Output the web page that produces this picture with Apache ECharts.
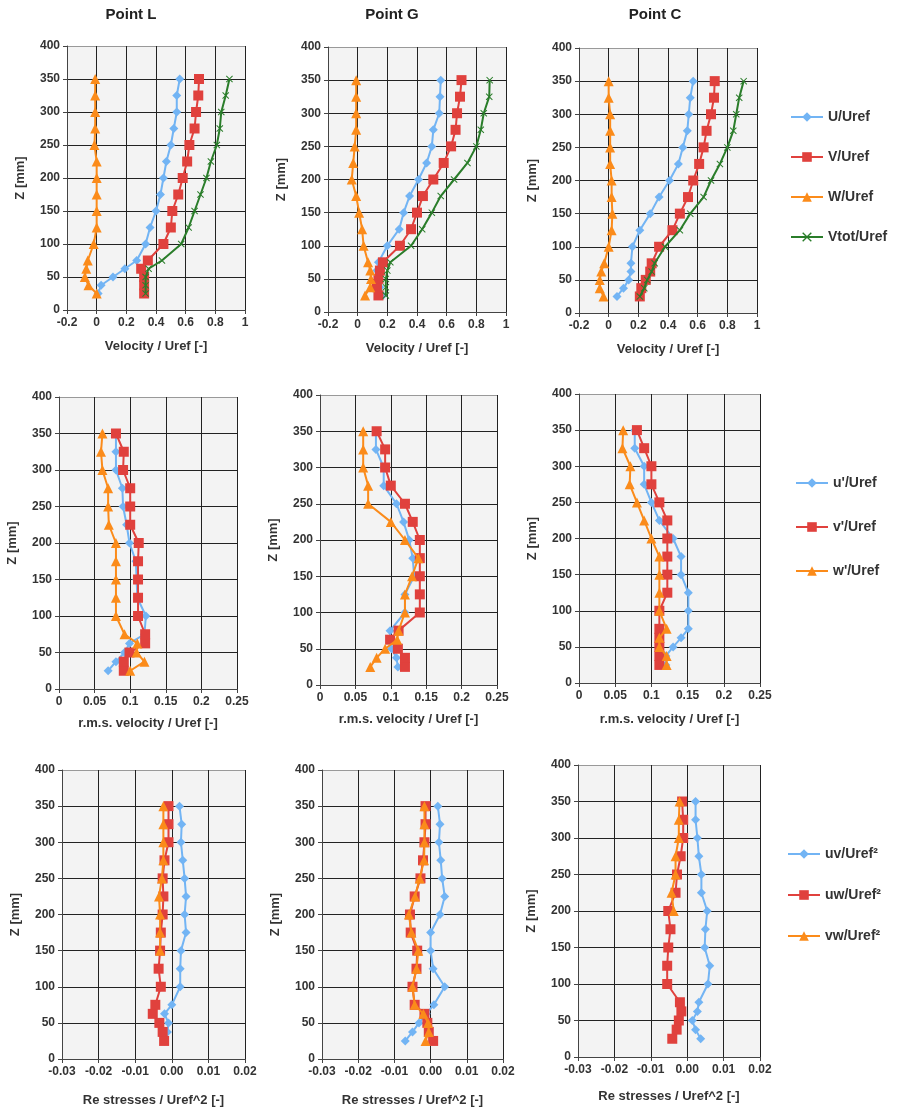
<!DOCTYPE html>
<html><head><meta charset="utf-8">
<script src="https://cdn.jsdelivr.net/npm/echarts@6/dist/echarts.min.js"></script>
<style>html,body{margin:0;padding:0;background:#fff}#c{width:909px;height:1110px}</style>
</head><body><div id="c"></div>
<script>
// ---------- DATA ----------
const zLevels = [25, 37.5, 50, 62.5, 75, 100, 125, 150, 175, 200, 225, 250, 275, 300, 325, 350];
const pointTitles = ['Point L', 'Point G', 'Point C'];

const velTicks = [-0.2, 0, 0.2, 0.4, 0.6, 0.8, 1];
const rmsTicks = [0, 0.05, 0.1, 0.15, 0.2, 0.25];
const reTicks = [-0.03, -0.02, -0.01, 0.00, 0.01, 0.02];
const zTicks = [0, 50, 100, 150, 200, 250, 300, 350, 400];

const velNames = ['U/Uref', 'V/Uref', 'W/Uref', 'Vtot/Uref'];
const rmsNames = ["u'/Uref", "v'/Uref", "w'/Uref"];
const reNames = ['uv/Uref\u00b2', 'uw/Uref\u00b2', 'vw/Uref\u00b2'];

// Mean velocities
const U_L = [0.01, 0.03, 0.11, 0.19, 0.27, 0.33, 0.36, 0.40, 0.43, 0.45, 0.47, 0.50, 0.52, 0.54, 0.54, 0.56];
const V_L = [0.32, 0.32, 0.32, 0.30, 0.345, 0.45, 0.50, 0.51, 0.55, 0.58, 0.61, 0.625, 0.66, 0.67, 0.685, 0.69];
const W_L = [0.0, -0.055, -0.08, -0.07, -0.06, -0.02, 0.0, 0.0, 0.0, 0.0, 0.0, -0.015, -0.01, -0.01, -0.01, -0.01];
const Vtot_L = [0.33, 0.33, 0.33, 0.35, 0.44, 0.57, 0.62, 0.66, 0.70, 0.74, 0.77, 0.81, 0.83, 0.84, 0.87, 0.895];

const U_G = [0.17, 0.15, 0.14, 0.13, 0.14, 0.20, 0.28, 0.31, 0.35, 0.41, 0.465, 0.50, 0.51, 0.55, 0.555, 0.56];
const V_G = [0.14, 0.13, 0.14, 0.15, 0.17, 0.285, 0.36, 0.40, 0.44, 0.51, 0.58, 0.63, 0.66, 0.67, 0.69, 0.70];
const W_G = [0.05, 0.085, 0.09, 0.085, 0.07, 0.04, 0.03, 0.01, -0.01, -0.04, -0.03, -0.02, -0.01, -0.01, -0.01, -0.01];
const Vtot_G = [0.19, 0.19, 0.19, 0.20, 0.22, 0.36, 0.435, 0.50, 0.56, 0.65, 0.74, 0.80, 0.83, 0.85, 0.887, 0.89];

const U_C = [0.056, 0.10, 0.135, 0.15, 0.15, 0.16, 0.21, 0.28, 0.34, 0.41, 0.47, 0.50, 0.53, 0.54, 0.55, 0.57];
const V_C = [0.21, 0.22, 0.25, 0.28, 0.29, 0.34, 0.43, 0.48, 0.535, 0.57, 0.61, 0.64, 0.66, 0.69, 0.71, 0.715];
const W_C = [-0.035, -0.06, -0.06, -0.05, -0.03, 0.0, 0.02, 0.025, 0.02, 0.02, 0.01, 0.01, 0.01, 0.01, 0.0, 0.0];
const Vtot_C = [0.21, 0.24, 0.26, 0.29, 0.31, 0.38, 0.48, 0.55, 0.64, 0.69, 0.75, 0.80, 0.84, 0.86, 0.88, 0.91];

// r.m.s. velocities
const u_L = [0.069, 0.08, 0.092, 0.099, 0.12, 0.122, 0.11, 0.109, 0.108, 0.099, 0.095, 0.09, 0.089, 0.08, 0.08, 0.08];
const v_L = [0.091, 0.091, 0.099, 0.121, 0.121, 0.111, 0.111, 0.111, 0.111, 0.112, 0.10, 0.10, 0.10, 0.09, 0.091, 0.08];
const w_L = [0.10, 0.12, 0.109, 0.11, 0.092, 0.08, 0.08, 0.08, 0.08, 0.08, 0.07, 0.069, 0.069, 0.061, 0.059, 0.061];

const u_G = [0.11, 0.108, 0.101, 0.099, 0.099, 0.12, 0.12, 0.133, 0.131, 0.126, 0.118, 0.108, 0.09, 0.09, 0.079, 0.079];
const v_G = [0.12, 0.12, 0.11, 0.099, 0.111, 0.141, 0.141, 0.141, 0.141, 0.141, 0.131, 0.12, 0.10, 0.092, 0.092, 0.08];
const w_G = [0.071, 0.08, 0.092, 0.109, 0.111, 0.12, 0.12, 0.13, 0.139, 0.12, 0.10, 0.068, 0.068, 0.061, 0.061, 0.061];

const u_C = [0.12, 0.12, 0.13, 0.141, 0.151, 0.151, 0.151, 0.141, 0.141, 0.13, 0.111, 0.10, 0.09, 0.09, 0.077, 0.077];
const v_C = [0.111, 0.111, 0.111, 0.111, 0.111, 0.111, 0.122, 0.122, 0.122, 0.122, 0.122, 0.111, 0.10, 0.10, 0.09, 0.08];
const w_C = [0.121, 0.121, 0.111, 0.111, 0.121, 0.111, 0.111, 0.111, 0.111, 0.10, 0.09, 0.08, 0.07, 0.071, 0.06, 0.061];

// Reynolds stresses
const uv_L = [-0.002, -0.0012, -0.0009, -0.002, 0.0, 0.0023, 0.0023, 0.0025, 0.0039, 0.0035, 0.0039, 0.0035, 0.003, 0.0025, 0.0027, 0.0021];
const uw_L = [-0.0021, -0.0025, -0.0034, -0.0052, -0.0045, -0.003, -0.0036, -0.0032, -0.003, -0.0025, -0.0023, -0.0025, -0.002, -0.0009, -0.0009, -0.0009];
const vw_L = [null, null, null, null, null, null, null, -0.0032, -0.0032, -0.0032, -0.0035, -0.0027, -0.0023, -0.0023, -0.0023, -0.0023];

const uv_G = [-0.007, -0.005, -0.0032, -0.0012, 0.0009, 0.0039, 0.0007, 0.0, 0.0, 0.0026, 0.0039, 0.0032, 0.0028, 0.0023, 0.0026, 0.002];
const uw_G = [0.0007, -0.0005, -0.0009, -0.0017, -0.0044, -0.005, -0.0039, -0.0037, -0.0055, -0.0057, -0.0044, -0.0028, -0.0021, -0.0017, -0.0014, -0.0014];
const vw_G = [-0.0014, -0.0005, -0.0007, -0.002, -0.0044, -0.005, -0.0039, -0.0034, -0.0053, -0.006, -0.0043, -0.003, -0.0018, -0.0017, -0.0017, -0.0017];

const uv_C = [0.0037, 0.0023, 0.0014, 0.0028, 0.0032, 0.0057, 0.0062, 0.0048, 0.005, 0.0055, 0.0039, 0.0039, 0.0032, 0.0028, 0.0023, 0.0023];
const uw_C = [-0.0041, -0.0029, -0.0023, -0.0016, -0.002, -0.0055, -0.0055, -0.0052, -0.0046, -0.0052, -0.0032, -0.0028, -0.0018, -0.0011, -0.0011, -0.0014];
const vw_C = [null, null, null, null, null, null, null, null, null, -0.0037, -0.0043, -0.0032, -0.0032, -0.0023, -0.0023, -0.0021];

// ---------- LAYOUT / STYLE ----------
const FONT = 'Liberation Sans, Arial, sans-serif';
const TXT = '#333';
const colors = { blue: '#72b4f4', red: '#e0413d', orange: '#fb8b1a', green: '#2a7d2a' };
const xPath = 'path://M0,1L1,0L5,4L9,0L10,1L6,5L10,9L9,10L5,6L1,10L0,9L4,5Z';
const styles = [
  { color: colors.blue, symbol: 'diamond', size: 9 },
  { color: colors.red, symbol: 'rect', size: 10 },
  { color: colors.orange, symbol: 'triangle', size: 10 },
  { color: colors.green, symbol: xPath, size: 7 }
];

const grids = [
  [67, 46, 178, 264], [328, 47, 178, 265], [579, 48, 178, 265],
  [59, 397, 178, 292], [320, 395, 177, 290], [579, 394, 181, 289],
  [62, 770, 183, 289], [322, 770, 181, 289], [578, 765, 182, 292]
];
const xNameGap = [30, 30, 30, 28, 28, 30, 35, 35, 33];

const rows = [
  { ticks: velTicks, name: 'Velocity / Uref [-]', names: velNames, fmt: null,
    sets: [[U_L, V_L, W_L, Vtot_L], [U_G, V_G, W_G, Vtot_G], [U_C, V_C, W_C, Vtot_C]] },
  { ticks: rmsTicks, name: 'r.m.s. velocity / Uref [-]', names: rmsNames, fmt: null,
    sets: [[u_L, v_L, w_L], [u_G, v_G, w_G], [u_C, v_C, w_C]] },
  { ticks: reTicks, name: 'Re stresses / Uref^2 [-]', names: reNames, fmt: v => v.toFixed(2),
    sets: [[uv_L, uw_L, vw_L], [uv_G, uw_G, vw_G], [uv_C, uw_C, vw_C]] }
];

const gridOpt = [], xAxes = [], yAxes = [], series = [];
rows.forEach((row, r) => {
  for (let c = 0; c < 3; c++) {
    const i = r * 3 + c;
    const g = grids[i];
    gridOpt.push({ left: g[0], top: g[1], width: g[2], height: g[3], show: true,
      backgroundColor: '#f3f3f3', borderWidth: 0, containLabel: false });
    const t = row.ticks;
    xAxes.push({
      type: 'value', gridIndex: i, min: t[0], max: t[t.length - 1],
      interval: +(t[1] - t[0]).toFixed(4),
      name: row.name, nameLocation: 'middle', nameGap: xNameGap[i],
      nameTextStyle: { fontFamily: FONT, fontWeight: 'bold', fontSize: 13, color: TXT },
      axisLine: { show: true, onZero: false, lineStyle: { color: '#444', width: 1 } },
      axisTick: { show: true, length: 4, lineStyle: { color: '#444' } },
      axisLabel: { fontFamily: FONT, fontWeight: 'bold', fontSize: 12, color: TXT, margin: 7,
        formatter: row.fmt || undefined, showMinLabel: true, showMaxLabel: true },
      splitLine: { show: true, lineStyle: { color: '#222', width: 1 } }
    });
    yAxes.push({
      type: 'value', gridIndex: i, min: zTicks[0], max: zTicks[zTicks.length - 1],
      interval: zTicks[1] - zTicks[0],
      name: 'Z [mm]', nameLocation: 'middle', nameGap: 40, nameRotate: 90,
      nameTextStyle: { fontFamily: FONT, fontWeight: 'bold', fontSize: 13, color: TXT },
      axisLine: { show: true, onZero: false, lineStyle: { color: '#444', width: 1 } },
      axisTick: { show: true, length: 4, lineStyle: { color: '#444' } },
      axisLabel: { fontFamily: FONT, fontWeight: 'bold', fontSize: 12, color: TXT, margin: 7 },
      splitLine: { show: true, lineStyle: { color: ['#222', '#222', '#222', '#222', '#222', '#222', '#222', '#222', '#999'], width: 1 } }
    });
    row.sets[c].forEach((vals, k) => {
      const st = styles[k];
      const data = [];
      zLevels.forEach((z, j) => { if (vals[j] !== null && vals[j] !== undefined) data.push([vals[j], z]); });
      series.push({
        type: 'line', name: row.names[k], xAxisIndex: i, yAxisIndex: i,
        data: data, symbol: st.symbol, symbolSize: st.size, showSymbol: true,
        lineStyle: { color: st.color, width: 2 },
        itemStyle: { color: st.color, borderWidth: 0 },
        animation: false, silent: true, z: 2 + k
      });
    });
  }
});

const legendBase = (names, left, top, gap) => ({
  data: names, orient: 'vertical', left: left, top: top, itemGap: gap,
  itemWidth: 32, itemHeight: 12,
  textStyle: { fontFamily: FONT, fontWeight: 'bold', fontSize: 14, color: TXT, padding: [0, 0, 0, 0] }
});

const option = {
  animation: false,
  backgroundColor: '#ffffff',
  grid: gridOpt, xAxis: xAxes, yAxis: yAxes, series: series,
  legend: [
    legendBase(velNames, 785, 105, 26),
    legendBase(rmsNames, 790, 471, 30),
    legendBase(reNames, 782, 842, 27)
  ],
  graphic: [
    { type: 'text', x: 131, y: 7, style: { text: pointTitles[0], align: 'center', verticalAlign: 'top', font: 'bold 15px ' + FONT, fill: '#222' } },
    { type: 'text', x: 392, y: 7, style: { text: pointTitles[1], align: 'center', verticalAlign: 'top', font: 'bold 15px ' + FONT, fill: '#222' } },
    { type: 'text', x: 655, y: 7, style: { text: pointTitles[2], align: 'center', verticalAlign: 'top', font: 'bold 15px ' + FONT, fill: '#222' } }
  ]
};

const chart = echarts.init(document.getElementById('c'), null, { renderer: 'canvas' });
chart.setOption(option);
</script>
</body></html>
